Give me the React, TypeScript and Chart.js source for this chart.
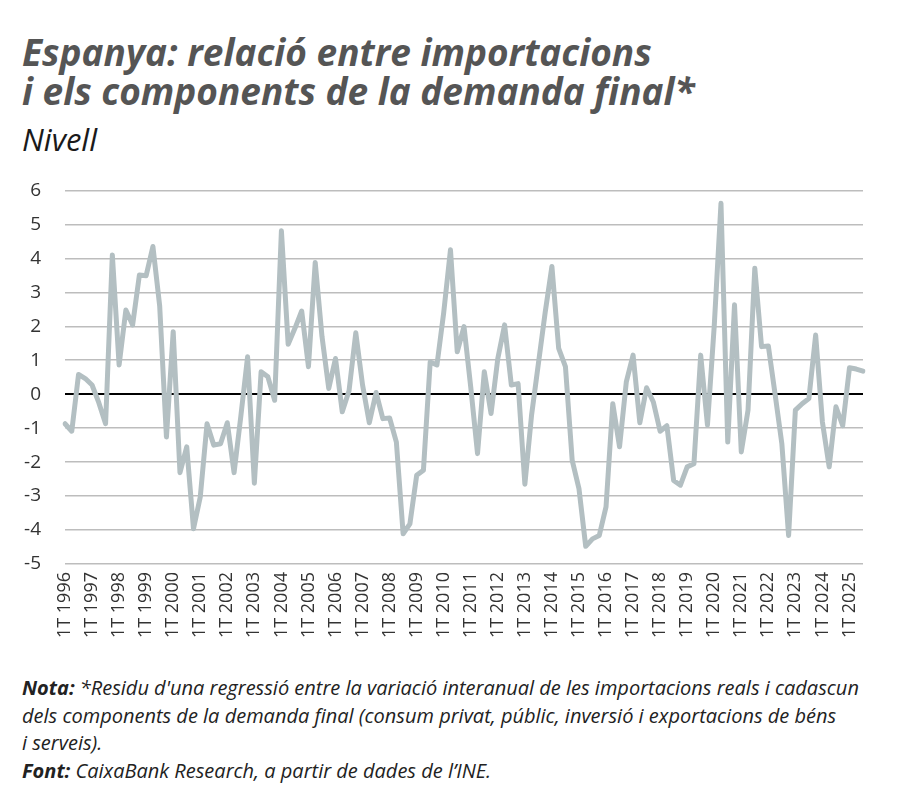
import React, { useEffect, useRef } from "react";
import { Chart, registerables } from "chart.js";

Chart.register(...registerables);

const firstYear = 1996;
const quarterNames = ["1T", "2T", "3T", "4T"];

const residu: number[] = [
  -0.87, -1.09, 0.58, 0.46, 0.27, -0.25, -0.87, 4.1,
  0.86, 2.48, 2.04, 3.51, 3.49, 4.35, 2.6, -1.26,
  1.84, -2.31, -1.55, -3.96, -3.03, -0.87, -1.5, -1.46,
  -0.84, -2.31, -0.65, 1.1, -2.62, 0.66, 0.51, -0.18,
  4.81, 1.47, 1.94, 2.45, 0.81, 3.88, 1.7, 0.17,
  1.05, -0.52, 0.1, 1.81, 0.27, -0.84, 0.05, -0.72,
  -0.7, -1.41, -4.11, -3.82, -2.39, -2.24, 0.95, 0.86,
  2.4, 4.25, 1.25, 1.99, 0.2, -1.75, 0.66, -0.57,
  1.05, 2.04, 0.27, 0.31, -2.65, -0.6, 0.9, 2.4,
  3.76, 1.35, 0.81, -1.95, -2.78, -4.48, -4.26, -4.16,
  -3.32, -0.28, -1.55, 0.36, 1.15, -0.84, 0.19, -0.23,
  -1.09, -0.93, -2.54, -2.68, -2.14, -2.05, 1.15, -0.91,
  2.0, 5.62, -1.41, 2.63, -1.7, -0.47, 3.71, 1.4,
  1.42, 0.0, -1.46, -4.16, -0.47, -0.28, -0.13, 1.74,
  -0.82, -2.14, -0.37, -0.93, 0.78, 0.74, 0.68,
];

const labels: string[] = residu.map(
  (_, i) => `${quarterNames[i % 4]} ${firstYear + Math.floor(i / 4)}`
);

const yMin = -5;
const yMax = 6;

const titleLines = [
  "Espanya: relació entre importacions",
  "i els components de la demanda final*",
];
const subtitle = "Nivell";

const LINE_COLOR = "#b3bfc2";
const FONT = "'Open Sans', sans-serif";

export default function App() {
  const canvasRef = useRef<HTMLCanvasElement | null>(null);

  useEffect(() => {
    if (!canvasRef.current) return;
    const chart = new Chart(canvasRef.current, {
      type: "line",
      data: {
        labels,
        datasets: [
          {
            data: residu,
            borderColor: LINE_COLOR,
            borderWidth: 5,
            pointRadius: 0,
            tension: 0,
            fill: false,
            borderJoinStyle: "round",
            borderCapStyle: "round",
          },
        ],
      },
      options: {
        animation: false,
        responsive: false,
        maintainAspectRatio: false,
        layout: { padding: { top: 0, right: 37, left: 0, bottom: 0 } },
        plugins: { legend: { display: false }, tooltip: { enabled: false } },
        scales: {
          x: {
            offset: false,
            grid: { display: false, drawTicks: false },
            border: { display: false },
            afterFit: (scale: any) => {
              scale.height = 86;
            },
            ticks: {
              autoSkip: false,
              maxRotation: 90,
              minRotation: 90,
              padding: 8,
              color: "#333",
              font: { family: FONT, size: 18 },
              callback: (_v: any, i: number) => (i % 4 === 0 ? labels[i] : ""),
            },
          },
          y: {
            min: yMin,
            max: yMax,
            afterFit: (scale: any) => {
              scale.width = 65;
            },
            grid: {
              drawTicks: false,
              color: (ctx: any) => (ctx.tick && ctx.tick.value === 0 ? "#000" : "#bdbdbd"),
              lineWidth: (ctx: any) => (ctx.tick && ctx.tick.value === 0 ? 2 : 1.5),
            },
            border: { display: false },
            ticks: {
              stepSize: 1,
              padding: 24,
              color: "#333",
              font: { family: FONT, size: 19 },
            },
          },
        },
      },
    });
    return () => chart.destroy();
  }, []);

  const abs = (top: number, extra: React.CSSProperties = {}): React.CSSProperties => ({
    position: "absolute",
    left: 22,
    top,
    whiteSpace: "nowrap",
    fontFamily: FONT,
    ...extra,
  });

  const titleStyle: React.CSSProperties = {
    fontSize: 37,
    lineHeight: "37px",
    fontWeight: 700,
    fontStyle: "italic",
    color: "#555",
  };

  const noteStyle: React.CSSProperties = {
    fontSize: 20,
    lineHeight: "20px",
    fontStyle: "italic",
    color: "#222",
  };

  return (
    <div
      style={{
        position: "fixed",
        left: 0,
        top: 0,
        width: 900,
        height: 810,
        background: "#fff",
        overflow: "hidden",
      }}
    >
      <div style={abs(33, titleStyle)}>{titleLines[0]}</div>
      <div style={abs(72, titleStyle)}>{titleLines[1]}</div>
      <div
        style={abs(124, {
          fontSize: 31,
          lineHeight: "31px",
          fontStyle: "italic",
          color: "#1a1a1a",
        })}
      >
        {subtitle}
      </div>
      <canvas
        ref={canvasRef}
        width={900}
        height={495}
        style={{ position: "absolute", left: 0, top: 155, width: 900, height: 495 }}
      />
      <div style={abs(678, noteStyle)}>
        <b>Nota:</b> *Residu d'una regressió entre la variació interanual de les importacions reals i cadascun
      </div>
      <div style={abs(706, noteStyle)}>
        dels components de la demanda final (consum privat, públic, inversió i exportacions de béns
      </div>
      <div style={abs(733, noteStyle)}>i serveis).</div>
      <div style={abs(761, noteStyle)}>
        <b>Font:</b> CaixaBank Research, a partir de dades de l’INE.
      </div>
    </div>
  );
}
